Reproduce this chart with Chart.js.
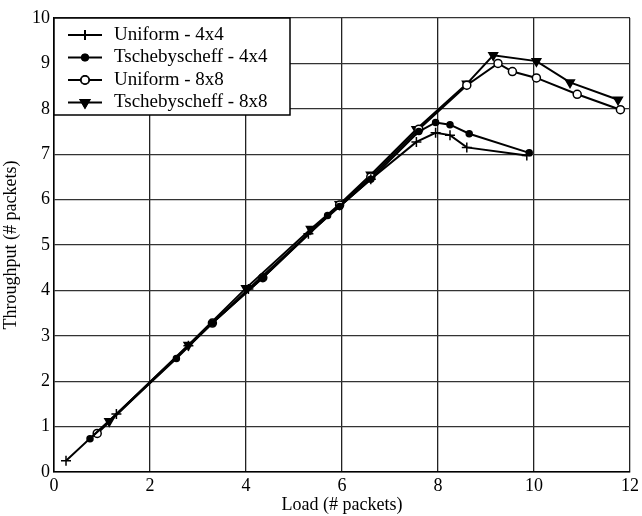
<!DOCTYPE html>
<html>
<head>
<meta charset="utf-8">
<script src="https://cdn.jsdelivr.net/npm/chart.js@4/dist/chart.umd.min.js"></script>
<style>
  html, body { margin: 0; padding: 0; background: #fff; }
  #wrap { width: 642px; height: 516px; }
</style>
</head>
<body>
<div id="wrap"><canvas id="throughputChart" width="642" height="516"></canvas></div>
<script>
// values (load, throughput)
const uniform4Load = [0.25, 1.3, 2.8, 4.05, 5.3, 6.6, 7.55, 7.95, 8.25, 8.6, 9.85];
const uniform4Thr  = [0.25, 1.28, 2.78, 4.03, 5.25, 6.45, 7.27, 7.47, 7.42, 7.15, 6.97];

const tscheb4Load = [0.75, 2.55, 3.3, 4.35, 5.7, 5.95, 6.6, 7.6, 7.95, 8.25, 8.65, 9.9];
const tscheb4Thr  = [0.73, 2.5, 3.28, 4.28, 5.65, 5.85, 6.45, 7.5, 7.7, 7.65, 7.45, 7.03];

const uniform8Load = [0.9, 3.3, 4.35, 5.95, 6.6, 7.6, 8.6, 9.25, 9.55, 10.05, 10.9, 11.8];
const uniform8Thr  = [0.85, 3.28, 4.28, 5.88, 6.5, 7.55, 8.52, 9.0, 8.82, 8.68, 8.32, 7.98];

const tscheb8Load = [1.15, 2.8, 4.0, 5.35, 5.95, 6.6, 7.55, 8.6, 9.15, 10.05, 10.75, 11.75];
const tscheb8Thr  = [1.12, 2.8, 4.05, 5.35, 5.9, 6.55, 7.55, 8.55, 9.18, 9.05, 8.58, 8.2];

const xTicks = [0, 2, 4, 6, 8, 10, 12];
const yTicks = [0, 1, 2, 3, 4, 5, 6, 7, 8, 9, 10];

const toPoints = (xs, ys) => xs.map((x, i) => ({ x: x, y: ys[i] }));

const serif = "'Liberation Serif', 'DejaVu Serif', serif";

const base = {
  showLine: true,
  borderColor: '#000',
  borderWidth: 2,
  pointBorderColor: '#000',
  pointBorderWidth: 1.5,
  tension: 0
};

const datasets = [
  Object.assign({}, base, {
    label: 'Uniform - 4x4',
    data: toPoints(uniform4Load, uniform4Thr),
    pointStyle: 'cross', pointRadius: 5, pointBackgroundColor: '#000'
  }),
  Object.assign({}, base, {
    label: 'Tschebyscheff - 4x4',
    data: toPoints(tscheb4Load, tscheb4Thr),
    pointStyle: 'circle', pointRadius: 3, pointBackgroundColor: '#000'
  }),
  Object.assign({}, base, {
    label: 'Uniform - 8x8',
    data: toPoints(uniform8Load, uniform8Thr),
    pointStyle: 'circle', pointRadius: 4, pointBackgroundColor: '#fff'
  }),
  Object.assign({}, base, {
    label: 'Tschebyscheff - 8x8',
    data: toPoints(tscheb8Load, tscheb8Thr),
    pointStyle: 'triangle', pointRotation: 180, pointRadius: 5, pointBackgroundColor: '#000'
  })
];

// legend box drawn inside the plot, top-left
const insideLegend = {
  id: 'insideLegend',
  afterDatasetsDraw(chart) {
    const ctx = chart.ctx;
    const area = chart.chartArea;
    const x0 = area.left, y0 = area.top;
    const w = 236, h = 97;
    ctx.save();
    ctx.fillStyle = '#fff';
    ctx.fillRect(x0, y0, w, h);
    ctx.strokeStyle = '#000';
    ctx.lineWidth = 1.5;
    ctx.strokeRect(x0, y0, w, h);
    ctx.font = '19px ' + serif;
    ctx.textBaseline = 'middle';
    ctx.fillStyle = '#000';
    chart.data.datasets.forEach((ds, i) => {
      const y = y0 + 17 + i * 22.5;
      ctx.beginPath();
      ctx.moveTo(x0 + 14, y);
      ctx.lineTo(x0 + 48, y);
      ctx.lineWidth = 2;
      ctx.stroke();
      Chart.helpers.drawPoint(ctx, {
        pointStyle: ds.pointStyle,
        rotation: ds.pointRotation || 0,
        radius: ds.pointRadius,
        borderWidth: ds.pointBorderWidth
      }, x0 + 31, y);
      ctx.fillStyle = ds.pointBackgroundColor;
      ctx.strokeStyle = '#000';
      ctx.lineWidth = ds.pointBorderWidth;
      ctx.fill();
      ctx.stroke();
      ctx.fillStyle = '#000';
      ctx.fillText(ds.label, x0 + 60, y);
    });
    ctx.restore();
  }
};

new Chart(document.getElementById('throughputChart'), {
  type: 'scatter',
  data: { datasets: datasets },
  plugins: [insideLegend],
  options: {
    responsive: false,
    animation: false,
    layout: { padding: { top: 18, right: 12, left: 0, bottom: 0 } },
    plugins: {
      legend: { display: false },
      tooltip: { enabled: false }
    },
    scales: {
      x: {
        type: 'linear',
        min: 0, max: 12,
        afterBuildTicks: scale => { scale.ticks = xTicks.map(v => ({ value: v })); },
        afterFit: scale => { scale.height = 44; },
        grid: { color: '#222', lineWidth: 1.3, drawTicks: false },
        border: { color: '#000', width: 1.5 },
        ticks: { color: '#000', padding: 3, font: { family: serif, size: 18 } },
        title: {
          display: true, text: 'Load (# packets)', color: '#000',
          font: { family: serif, size: 18 }, padding: { top: -4, bottom: 0 }
        }
      },
      y: {
        type: 'linear',
        min: 0, max: 10,
        afterBuildTicks: scale => { scale.ticks = yTicks.map(v => ({ value: v })); },
        afterFit: scale => { scale.width = 54; },
        grid: { color: '#333', lineWidth: 1.3, drawTicks: false },
        border: { color: '#000', width: 1.5 },
        ticks: { color: '#000', padding: 4, font: { family: serif, size: 18 } },
        title: {
          display: true, text: 'Throughput (# packets)', color: '#000',
          font: { family: serif, size: 18 }, padding: { top: 0, bottom: 0 }
        }
      }
    }
  }
});
</script>
</body>
</html>
